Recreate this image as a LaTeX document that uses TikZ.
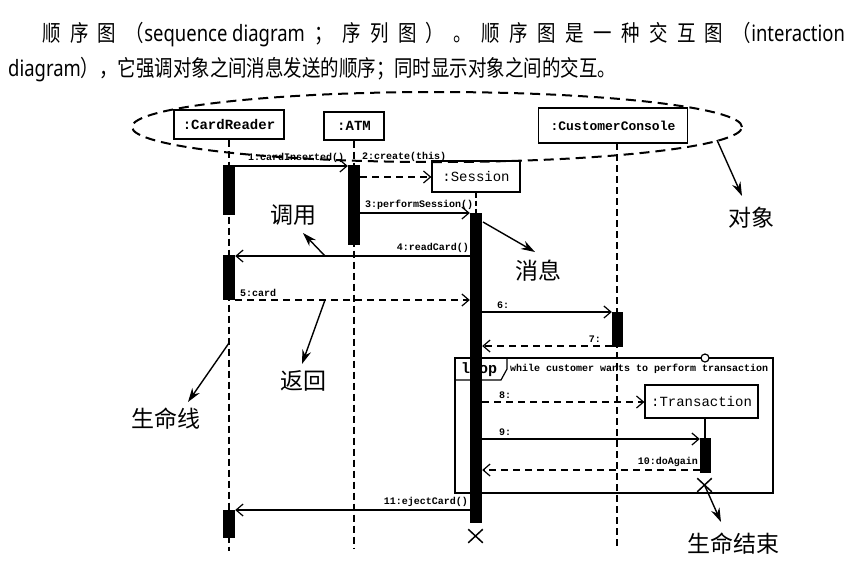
\documentclass[tikz,border=0pt]{standalone}
\usepackage{fontspec}
\usepackage{graphicx}
\setmainfont{Liberation Serif}
\setmonofont{Liberation Mono}
\newfontfamily\cjk{Noto Sans CJK SC}
\newfontfamily\lat{Noto Sans}
\usetikzlibrary{arrows.meta,shapes.misc,shapes.geometric}
\begin{document}
\begin{tikzpicture}[x=1pt,y=-1pt,
  obj/.style={draw,line width=1.2pt,inner sep=0pt,font=\ttfamily\bfseries\fontsize{14}{14}\selectfont},
  objr/.style={draw,line width=1.2pt,inner sep=0pt,font=\ttfamily\fontsize{14}{14}\selectfont},
  bar/.style={fill=black,draw=none,inner sep=0pt,minimum width=12pt},
  lifeline/.style={line width=1.3pt,dash pattern=on 7pt off 4pt},
  call/.style={line width=1.2pt,-{Straight Barb[length=7pt,width=12pt,line width=1.2pt]}},
  reply/.style={line width=1.2pt,dash pattern=on 7pt off 5pt,-{Straight Barb[length=7pt,width=12pt,line width=1.2pt]}},
  lbl/.style={inner sep=1pt,font=\ttfamily\bfseries\fontsize{10}{10}\selectfont},
  note/.style={inner sep=0pt,font=\cjk\fontsize{23}{23}\selectfont},
  pointer/.style={line width=1.4pt,-{Stealth[length=14pt,width=9pt]}},
  xmark/.style={cross out,draw,line width=1.5pt,inner sep=0pt,minimum width=13pt,minimum height=12pt}
]
\useasboundingbox[fill=white] (0,0) rectangle (848,566);

% title
\node[anchor=west,inner sep=0pt] (t1) at (42,35)
 {\scalebox{0.82}[1]{\cjk\fontsize{22.5}{22.5}\selectfont\makebox[979pt][l]{顺\hfill 序\hfill 图\hfill （{\lat sequence diagram}\hfill ；\hfill 序\hfill 列\hfill 图\hfill ）\hfill 。\hfill 顺\hfill 序\hfill 图\hfill 是\hfill 一\hfill 种\hfill 交\hfill 互\hfill 图\hfill （{\lat interaction}}}};
\node[anchor=west,inner sep=0pt] (t2) at (8,70)
 {\scalebox{0.82}[1]{\cjk\fontsize{22.5}{22.5}\selectfont {\lat diagram}），它强调对象之间消息发送的顺序；同时显示对象之间的交互。}};

% objects
\node[obj,minimum width=110pt,minimum height=29pt] (cr) at (229,124.5) {:CardReader};
\node[obj,minimum width=60pt,minimum height=28pt] (atm) at (354,126) {:ATM};
\node[obj,font=\ttfamily\bfseries\fontsize{13}{13}\selectfont,minimum width=149pt,minimum height=35pt] (cc) at (613,125.5) {:CustomerConsole};
\node[objr,minimum width=88pt,minimum height=31pt] (ses) at (476,176.5) {:Session};
\node[objr,minimum width=113pt,minimum height=33pt] (tr) at (701.5,401.5) {:Transaction};

% ellipse
\node[draw,ellipse,line width=2pt,dash pattern=on 10pt off 6pt,minimum width=610pt,minimum height=70pt,inner sep=0pt] (objs) at (437,127) {};

% lifeline end points
\coordinate (crEnd) at (229,551);
\coordinate (atmEnd) at (354,549);
\coordinate (ccEnd) at (617,548);
\coordinate (ccTop) at (617,143);

\draw[lifeline] (cr.south) -- (crEnd);
\draw[lifeline] (atm.south) -- (atmEnd);
\draw[lifeline] (ccTop) -- (ccEnd);
\draw[line width=1.3pt,dash pattern=on 5pt off 3pt] (ses.south) -- (476,213);
\draw[line width=1.3pt] (705,418) -- (705,438);

% loop frame
\draw[line width=1.2pt] (455,358) rectangle (773,493);
\draw[line width=1.2pt] (455,380) -- (501,380) -- (507,369) -- (507,358);
\node[inner sep=0pt,anchor=west,font=\ttfamily\bfseries\fontsize{15}{15}\selectfont] (looplbl) at (461,369.5) {loop};
\node[lbl,anchor=west] (guard) at (509,369) {while customer wants to perform transaction};
\node[circle,draw,fill=white,line width=1.2pt,minimum size=8pt,inner sep=0pt] (lc) at (705,358) {};

% activation bars
\node[bar,minimum height=50pt] (cr1) at (229,190) {};
\node[bar,minimum height=45pt] (cr2) at (229,277.5) {};
\node[bar,minimum height=28pt] (cr3) at (229,524) {};
\node[bar,minimum height=80pt] (atm1) at (354,205) {};
\node[bar,minimum height=310pt] (s1) at (476,368) {};
\node[bar,minimum width=11pt,minimum height=35pt] (cc1) at (617.5,329.5) {};
\node[bar,minimum width=11pt,minimum height=35pt] (tr1) at (705.5,455.5) {};

% destruction marks
\node[xmark] (sx) at (475.5,536) {};
\node[xmark] (tx) at (704.5,485) {};

% message rows
\coordinate (m1) at (0,166);
\coordinate (m2) at (0,177);
\coordinate (m3) at (0,213);
\coordinate (m4) at (0,256);
\coordinate (m5) at (0,300);
\coordinate (m6) at (0,312);
\coordinate (m7) at (0,346);
\coordinate (m8) at (0,402);
\coordinate (m9) at (0,439);
\coordinate (m10) at (0,470);
\coordinate (m11) at (0,510);

\draw[call] (cr1.east |- m1) -- (atm1.west |- m1);
\draw[reply] (atm1.east |- m2) -- (ses.west |- m2);
\draw[call] (atm1.east |- m3) -- (s1.west |- m3);
\draw[call] (s1.west |- m4) -- (cr2.east |- m4);
\draw[reply] (cr2.east |- m5) -- (s1.west |- m5);
\draw[call] (s1.east |- m6) -- (cc1.west |- m6);
\draw[reply] (cc1.west |- m7) -- (s1.east |- m7);
\draw[reply] (s1.east |- m8) -- (tr.west |- m8);
\draw[call] (s1.east |- m9) -- (tr1.west |- m9);
\draw[reply] (tr1.west |- m10) -- (s1.east |- m10);
\draw[call] (s1.west |- m11) -- (cr3.east |- m11);

\node[lbl,anchor=south west] (l1) at (247,164) {1:cardInserted()};
\node[lbl,anchor=south west] (l2) at (361,163) {2:create(this)};
\node[lbl,anchor=south west] (l3) at (364,211) {3:performSession()};
\node[lbl,anchor=south east] (l4) at (470,254) {4:readCard()};
\node[lbl,anchor=south west] (l5) at (239,298) {5:card};
\node[lbl,anchor=south west] (l6) at (496,310) {6:};
\node[lbl,anchor=south east] (l7) at (602,344) {7:};
\node[lbl,anchor=south west] (l8) at (498,400) {8:};
\node[lbl,anchor=south west] (l9) at (498,437) {9:};
\node[lbl,anchor=south east] (l10) at (699,468) {10:doAgain};
\node[lbl,anchor=south east] (l11) at (469,508) {11:ejectCard()};

% annotations
\node[note] (nCall) at (293,215) {调用};
\node[note] (nMsg) at (538,271) {消息};
\node[note] (nRet) at (303,381) {返回};
\node[note] (nLife) at (166,419) {生命线};
\node[note] (nObj) at (751,218) {对象};
\node[note] (nEnd) at (733,544) {生命结束};

\coordinate (pCall) at (325,256);
\coordinate (pMsg) at (483,222);
\coordinate (pRet) at (325,300);
\coordinate (pLife) at (229,343);
\coordinate (pObj) at (717,140);

\draw[pointer] (pCall) -- (303,233);
\draw[pointer] (pMsg) -- (535,252);
\draw[pointer] (pRet) -- (302,364);
\draw[pointer] (pLife) -- (188,402);
\draw[pointer] (pObj) -- (742,196);
\draw[pointer] (tx.center) -- (721,522);
\end{tikzpicture}
\end{document}
